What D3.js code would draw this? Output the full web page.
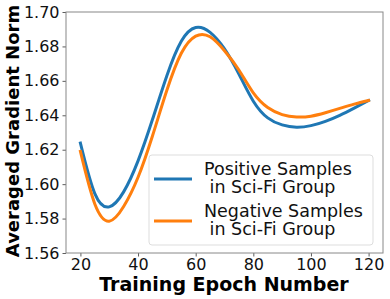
<!DOCTYPE html>
<html>
<head>
<meta charset="utf-8">
<script src="https://cdn.jsdelivr.net/npm/d3@7"></script>
<style>
  body { margin: 0; background: #fff; }
  svg { font-family: "DejaVu Sans", sans-serif; }
</style>
</head>
<body>
<div id="chart"></div>
<script>
// values
const epochs = [20, 25, 30, 35, 40, 45, 50, 55, 60, 65, 70, 75, 80, 85, 90, 95, 100, 105, 110, 115, 120];
const positive = [1.6238, 1.5945, 1.5868, 1.5955, 1.6135, 1.6375, 1.6630, 1.6830, 1.6910, 1.6882, 1.6786, 1.6640, 1.6482, 1.6385, 1.6344, 1.6331, 1.6340, 1.6365, 1.6400, 1.6442, 1.6486];
const negative = [1.6190, 1.5885, 1.5785, 1.5870, 1.6040, 1.6280, 1.6545, 1.6760, 1.6860, 1.6856, 1.6775, 1.6663, 1.6530, 1.6445, 1.6404, 1.6390, 1.6395, 1.6415, 1.6440, 1.6465, 1.6486];
const xTicks = [20, 40, 60, 80, 100, 120];
const yTicks = [1.56, 1.58, 1.60, 1.62, 1.64, 1.66, 1.68, 1.70];
const seriesNames = [["Positive Samples", " in Sci-Fi Group"], ["Negative Samples", " in Sci-Fi Group"]];
const colors = ["#1f77b4", "#ff7f0e"];

const width = 390, height = 299;
const margin = {top: 12, right: 7, bottom: 46, left: 66};

const svg = d3.select("#chart").append("svg")
    .attr("width", width)
    .attr("height", height);

const x = d3.scaleLinear().domain([15, 125]).range([margin.left, width - margin.right]);
const y = d3.scaleLinear().domain([1.56, 1.70]).range([height - margin.bottom, margin.top]);

const line = d3.line()
    .x((d, i) => x(epochs[i]))
    .y(d => y(d))
    .curve(d3.curveNatural);

// axes
const xAxis = svg.append("g")
    .attr("transform", `translate(0,${height - margin.bottom})`)
    .call(d3.axisBottom(x).tickValues(xTicks).tickSize(3.5).tickPadding(2).tickFormat(d3.format("d")));
const yAxis = svg.append("g")
    .attr("transform", `translate(${margin.left},0)`)
    .call(d3.axisLeft(y).tickValues(yTicks).tickSize(3.5).tickPadding(3).tickFormat(d3.format(".2f")));

[xAxis, yAxis].forEach(g => {
  g.select(".domain").remove();
  g.selectAll(".tick line").attr("stroke", "#333").attr("stroke-width", 0.8);
  g.selectAll(".tick text")
    .attr("font-family", "DejaVu Sans")
    .attr("font-size", 16)
    .attr("fill", "#111");
});

// frame
svg.append("rect")
    .attr("x", margin.left)
    .attr("y", margin.top)
    .attr("width", width - margin.left - margin.right)
    .attr("height", height - margin.top - margin.bottom)
    .attr("fill", "none")
    .attr("stroke", "#888")
    .attr("stroke-width", 1);

// lines
[positive, negative].forEach((s, i) => {
  svg.append("path")
      .datum(s)
      .attr("fill", "none")
      .attr("stroke", colors[i])
      .attr("stroke-width", 3)
      .attr("stroke-linecap", "square")
      .attr("d", line);
});

// axis labels
svg.append("text")
    .attr("x", 224)
    .attr("y", 291)
    .attr("text-anchor", "middle")
    .attr("font-weight", "bold")
    .attr("font-size", 19)
    .text("Training Epoch Number");

svg.append("text")
    .attr("transform", `translate(19,131) rotate(-90)`)
    .attr("text-anchor", "middle")
    .attr("font-weight", "bold")
    .attr("font-size", 18)
    .text("Averaged Gradient Norm");

// legend
const legend = svg.append("g");
legend.append("rect")
    .attr("x", 149)
    .attr("y", 155)
    .attr("width", 224)
    .attr("height", 90)
    .attr("rx", 3)
    .attr("fill", "#fff")
    .attr("fill-opacity", 0.8)
    .attr("stroke", "#ddd")
    .attr("stroke-width", 1);

seriesNames.forEach((lines, i) => {
  const top = 175 + i * 42;
  legend.append("line")
      .attr("x1", 154).attr("x2", 192)
      .attr("y1", top + 4).attr("y2", top + 4)
      .attr("stroke", colors[i])
      .attr("stroke-width", 3);
  const t = legend.append("text")
      .attr("x", 204)
      .attr("y", top)
      .attr("font-size", 17.5)
      .attr("fill", "#111")
      .attr("xml:space", "preserve");
  lines.forEach((s, j) => {
    t.append("tspan").attr("x", 204).attr("y", top + j * 18).text(s);
  });
});
</script>
</body>
</html>
